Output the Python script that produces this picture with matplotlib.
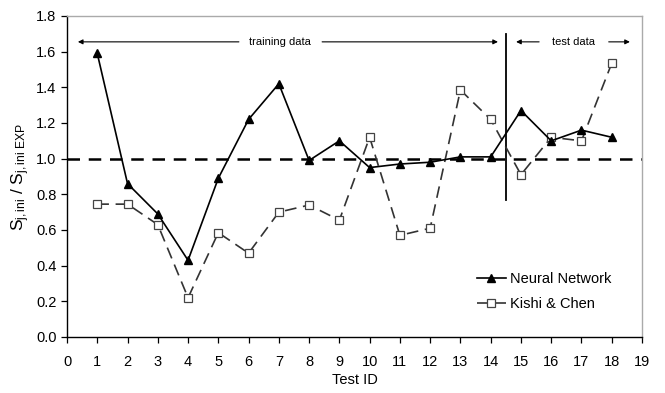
import matplotlib
matplotlib.use("Agg")
import matplotlib.pyplot as plt

plt.rcParams['font.family'] = ['Liberation Sans', 'DejaVu Sans']
plt.rcParams['mathtext.fontset'] = 'custom'
plt.rcParams['mathtext.rm'] = 'Liberation Sans'
plt.rcParams['mathtext.it'] = 'Liberation Sans'

test_id = list(range(1, 19))
neural_network = [1.59, 0.86, 0.69, 0.43, 0.89, 1.22, 1.42, 0.99, 1.10,
                  0.95, 0.97, 0.98, 1.01, 1.01, 1.27, 1.10, 1.16, 1.12]
kishi_chen = [0.745, 0.745, 0.63, 0.22, 0.585, 0.47, 0.70, 0.74, 0.655,
              1.12, 0.57, 0.61, 1.385, 1.22, 0.91, 1.12, 1.10, 1.535]
split_at = 14.5

fig = plt.figure(figsize=(6.65, 3.93), dpi=100)
ax = fig.add_axes([67 / 665, 56 / 393, 575 / 665, 321 / 393])

ax.axhline(1.0, color='black', lw=1.8, ls=(0, (5, 3.5)), zorder=1)
ax.plot([split_at, split_at], [0.77, 1.70], color='black', lw=1.3, zorder=2)

ax.plot(test_id, neural_network, color='black', lw=1.2, marker='^',
        ms=6, mfc='black', mec='black', label='Neural Network', zorder=4)
ax.plot(test_id, kishi_chen, color='#333333', lw=1.2, ls=(0, (7, 4)),
        marker='s', ms=6, mfc='white', mec='#444444', mew=0.9,
        label='Kishi & Chen', zorder=3)

# region annotations
arr = dict(arrowstyle='-|>', color='black', lw=0.8, mutation_scale=7,
           shrinkA=0, shrinkB=0)
y_ann = 1.655
ax.annotate('', xy=(0.36, y_ann), xytext=(5.68, y_ann), arrowprops=arr)
ax.annotate('', xy=(14.24, y_ann), xytext=(8.43, y_ann), arrowprops=arr)
ax.text(7.05, y_ann, 'training data', fontsize=8, ha='center', va='center')
ax.annotate('', xy=(14.84, y_ann), xytext=(15.6, y_ann), arrowprops=arr)
ax.annotate('', xy=(18.6, y_ann), xytext=(17.9, y_ann), arrowprops=arr)
ax.text(16.75, y_ann, 'test data', fontsize=8, ha='center', va='center')

ax.set_xlim(0, 19)
ax.set_ylim(0, 1.8)
ax.set_xticks(range(0, 20))
ax.set_yticks([i * 0.2 for i in range(10)])
ax.set_yticklabels([f'{i * 0.2:.1f}' for i in range(10)])
ax.tick_params(labelsize=10.5, direction='out', length=4, width=0.9)
ax.tick_params(axis='x', pad=9)

for side in ('top', 'right'):
    ax.spines[side].set_color('#aaaaaa')
    ax.spines[side].set_linewidth(1.0)
for side in ('left', 'bottom'):
    ax.spines[side].set_linewidth(1.0)

ax.set_xlabel('Test ID', fontsize=10.5, labelpad=3)
ax.set_ylabel(r'$\mathregular{S_{j,ini}\ /\ S_{j,ini\ EXP}}$', fontsize=12.5, labelpad=3)

ax.legend(loc='lower right', bbox_to_anchor=(0.97, 0.04), frameon=False,
          fontsize=10.5, handlelength=2.0, handletextpad=0.3, labelspacing=0.75)

fig.savefig('out.png', dpi=100)
